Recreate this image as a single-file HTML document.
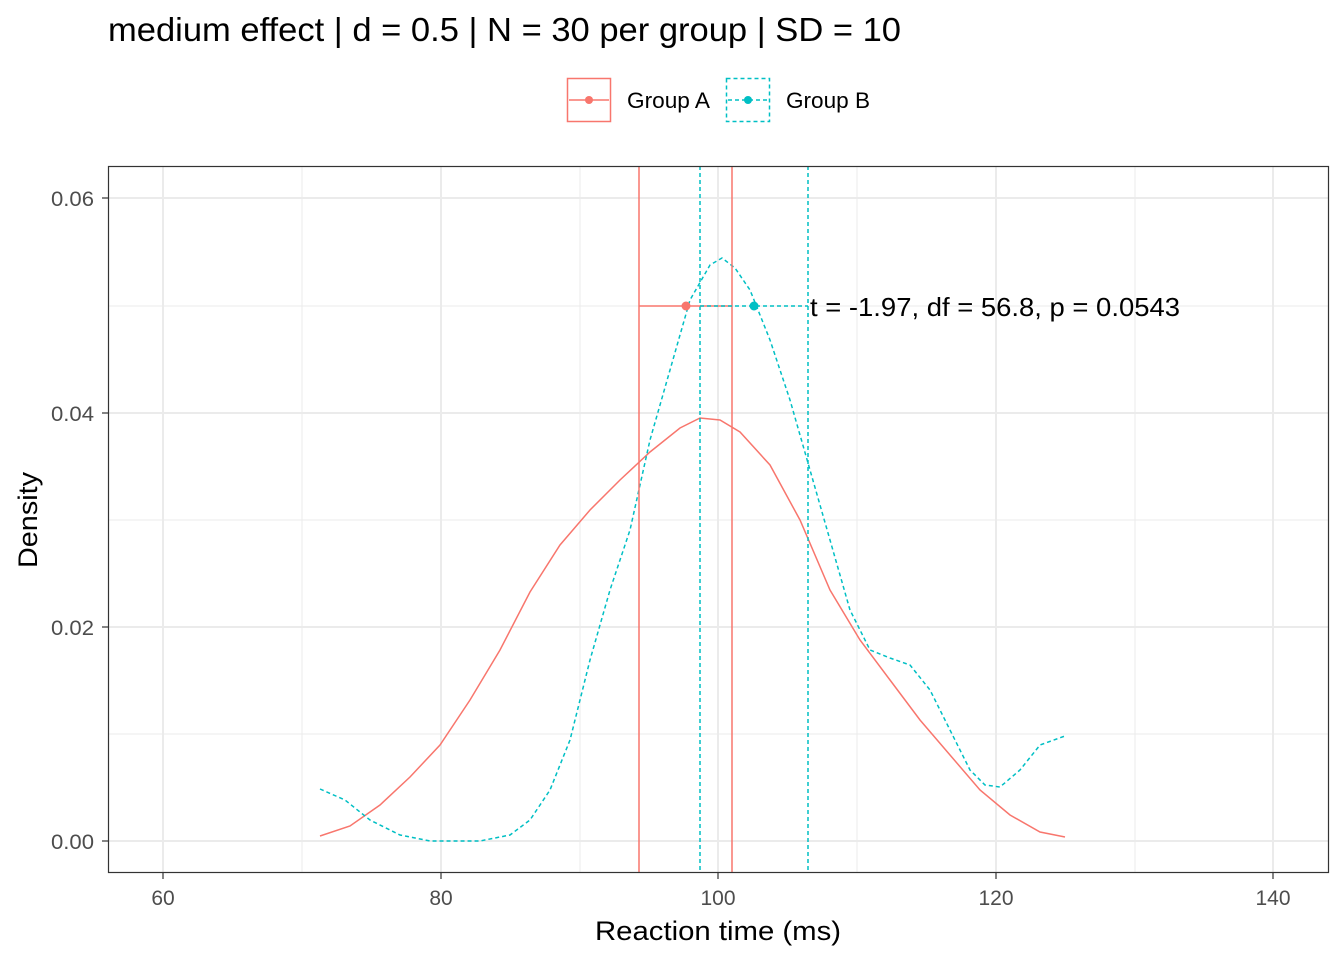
<!DOCTYPE html>
<html><head><meta charset="utf-8"><style>
body{margin:0;background:#fff}
svg{display:block}
text{font-family:"Liberation Sans",Arial,sans-serif}
</style></head><body>
<svg width="1344" height="960" viewBox="0 0 1344 960" xmlns="http://www.w3.org/2000/svg">
<rect width="1344" height="960" fill="#fff"/>
<text x="108" y="41" font-size="33" fill="#000" textLength="793" lengthAdjust="spacingAndGlyphs">medium effect | d = 0.5 | N = 30 per group | SD = 10</text>
<!-- legend -->
<rect x="567.5" y="78.5" width="43" height="43" fill="#fff" stroke="#F8766D" stroke-width="1.5"/>
<line x1="569" y1="100" x2="609" y2="100" stroke="#F8766D" stroke-width="1.5"/>
<circle cx="589" cy="100" r="4" fill="#F8766D"/>
<text x="627" y="108" font-size="22" fill="#000" textLength="83" lengthAdjust="spacingAndGlyphs">Group A</text>
<rect x="726.5" y="78.5" width="43" height="43" fill="#fff" stroke="#00BFC4" stroke-width="1.5" stroke-dasharray="4,3"/>
<line x1="728" y1="100" x2="768" y2="100" stroke="#00BFC4" stroke-width="1.5" stroke-dasharray="4,3"/>
<circle cx="748" cy="100" r="4" fill="#00BFC4"/>
<text x="786" y="108" font-size="22" fill="#000" textLength="84" lengthAdjust="spacingAndGlyphs">Group B</text>
<!-- grid -->
<g stroke="#ebebeb" stroke-width="1">
<line x1="302" y1="166" x2="302" y2="873"/><line x1="580" y1="166" x2="580" y2="873"/>
<line x1="857" y1="166" x2="857" y2="873"/><line x1="1135" y1="166" x2="1135" y2="873"/>
<line x1="108" y1="306" x2="1329" y2="306"/><line x1="108" y1="520" x2="1329" y2="520"/>
<line x1="108" y1="734" x2="1329" y2="734"/>
</g>
<g stroke="#ebebeb" stroke-width="2">
<line x1="163" y1="166" x2="163" y2="873"/><line x1="441" y1="166" x2="441" y2="873"/>
<line x1="718" y1="166" x2="718" y2="873"/><line x1="996" y1="166" x2="996" y2="873"/>
<line x1="1273" y1="166" x2="1273" y2="873"/>
<line x1="108" y1="198" x2="1329" y2="198"/><line x1="108" y1="413" x2="1329" y2="413"/>
<line x1="108" y1="627" x2="1329" y2="627"/><line x1="108" y1="841" x2="1329" y2="841"/>
</g>
<!-- curves -->
<polyline fill="none" stroke="#F8766D" stroke-width="1.5" points="320,836 350,826 380,805 410,777 440,745 470,700 500,650 530,592 560,545 590,510 620,480 650,452 680,428 700,418 720,420 740,432 770,465 800,520 830,590 860,640 890,680 920,720 950,755 980,790 1010,815 1040,832 1065,837"/>
<polyline fill="none" stroke="#00BFC4" stroke-width="1.5" stroke-dasharray="4,3" points="320,789 345,800 370,820 400,835 430,841 480,841 510,835 530,820 550,790 570,740 590,660 610,590 630,530 650,440 670,370 690,300 710,265 722,258 735,268 750,290 770,340 790,400 810,470 830,540 850,610 870,650 890,658 910,665 930,690 950,730 970,770 985,785 1000,787 1020,770 1040,745 1065,736"/>
<!-- vertical lines -->
<line x1="639" y1="166" x2="639" y2="873" stroke="#F8766D" stroke-width="1.5"/>
<line x1="732" y1="166" x2="732" y2="873" stroke="#F8766D" stroke-width="1.5"/>
<line x1="700" y1="166" x2="700" y2="873" stroke="#00BFC4" stroke-width="1.5" stroke-dasharray="4,3"/>
<line x1="808" y1="166" x2="808" y2="873" stroke="#00BFC4" stroke-width="1.5" stroke-dasharray="4,3"/>
<line x1="639" y1="306" x2="732" y2="306" stroke="#F8766D" stroke-width="1.5"/>
<line x1="700" y1="306" x2="808" y2="306" stroke="#00BFC4" stroke-width="1.5" stroke-dasharray="4,3"/>
<circle cx="686" cy="306" r="4.5" fill="#F8766D"/>
<circle cx="754" cy="306" r="4.5" fill="#00BFC4"/>
<text x="810" y="316" font-size="26" fill="#000" textLength="370" lengthAdjust="spacingAndGlyphs">t = -1.97, df = 56.8, p = 0.0543</text>
<!-- panel border -->
<rect x="108.5" y="166.5" width="1220" height="706" fill="none" stroke="#333" stroke-width="1.2"/>
<!-- ticks -->
<g stroke="#333" stroke-width="1.2">
<line x1="102" y1="198" x2="108" y2="198"/><line x1="102" y1="413" x2="108" y2="413"/>
<line x1="102" y1="627" x2="108" y2="627"/><line x1="102" y1="841" x2="108" y2="841"/>
<line x1="163" y1="873" x2="163" y2="879"/><line x1="441" y1="873" x2="441" y2="879"/>
<line x1="718" y1="873" x2="718" y2="879"/><line x1="996" y1="873" x2="996" y2="879"/>
<line x1="1273" y1="873" x2="1273" y2="879"/>
</g>
<g font-size="21" fill="#4d4d4d" text-anchor="end">
<text x="94" y="206" textLength="43" lengthAdjust="spacingAndGlyphs">0.06</text><text x="94" y="421" textLength="43" lengthAdjust="spacingAndGlyphs">0.04</text>
<text x="94" y="635" textLength="43" lengthAdjust="spacingAndGlyphs">0.02</text><text x="94" y="849" textLength="43" lengthAdjust="spacingAndGlyphs">0.00</text>
</g>
<g font-size="21" fill="#4d4d4d" text-anchor="middle">
<text x="163" y="905">60</text><text x="441" y="905">80</text><text x="718" y="905">100</text>
<text x="996" y="905">120</text><text x="1273" y="905">140</text>
</g>
<text x="718" y="940" font-size="27" text-anchor="middle" fill="#000" textLength="246" lengthAdjust="spacingAndGlyphs">Reaction time (ms)</text>
<text transform="translate(37,520) rotate(-90)" font-size="27" text-anchor="middle" fill="#000" textLength="96" lengthAdjust="spacingAndGlyphs">Density</text>
</svg>
</body></html>
